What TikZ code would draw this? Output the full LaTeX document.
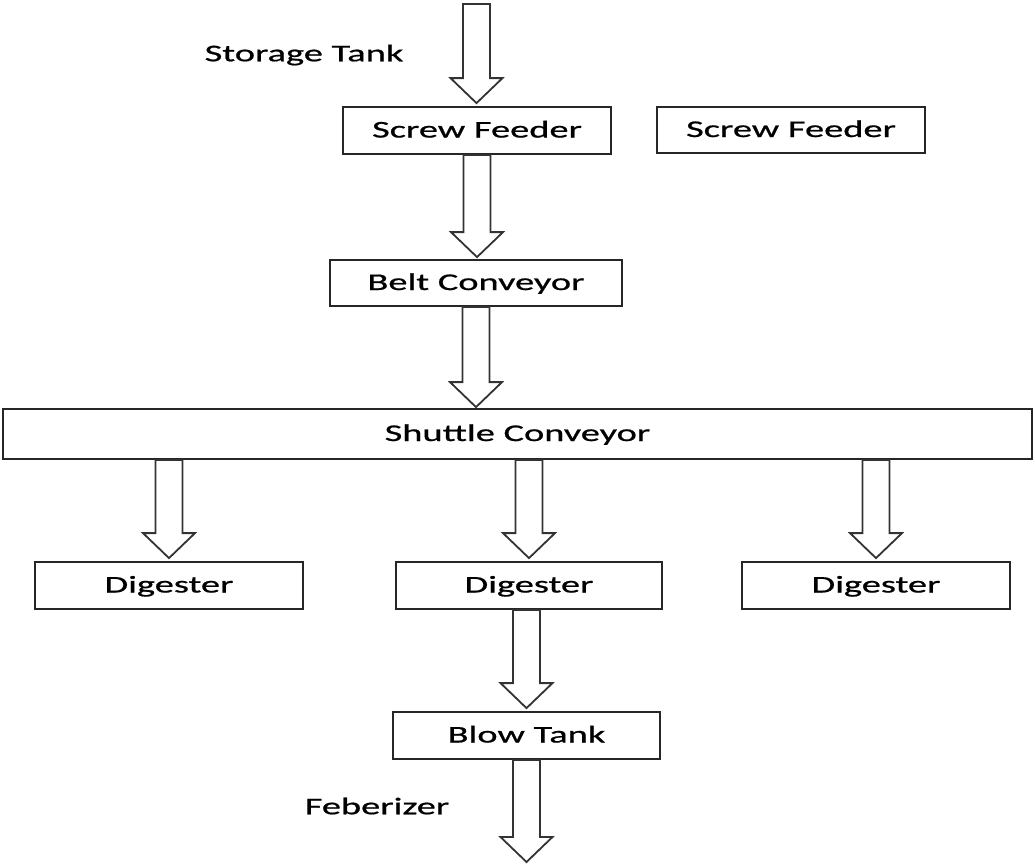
\documentclass[tikz,border=0pt]{standalone}
\usepackage{fontspec}
\setmainfont{Carlito}
\newfontfamily\widefont[FakeStretch=1.6,FakeBold=0.8]{Carlito}
\usetikzlibrary{calc}
\tikzset{
  box/.style={draw=black!85, line width=1.8pt, inner sep=0pt, text height=17pt, text depth=3pt, font=\widefont\fontsize{24}{28}\selectfont},
  lbl/.style={inner sep=0pt, font=\widefont\fontsize{24}{28}\selectfont},
  blockarrow/.style={draw=black!80, line width=1.8pt, fill=white, line join=miter}
}
\newcommand\barrow[2]{%
  \draw[blockarrow] let \p1=(#1), \p2=(#2) in
    (\x1-13.5pt,\y1) -- (\x1-13.5pt,\y2+25pt) -- (\x1-26pt,\y2+25pt) -- (\x1,\y2)
    -- (\x1+26pt,\y2+25pt) -- (\x1+13.5pt,\y2+25pt) -- (\x1+13.5pt,\y1) -- cycle;}
\begin{document}
\begin{tikzpicture}[x=1pt,y=-1pt]
\useasboundingbox (0,0) rectangle (1035,863);
\node[box, minimum width=268pt, minimum height=47pt] (sf1) at (477,130.5) {Screw Feeder};
\node[box, minimum width=268pt, minimum height=46pt] (sf2) at (791,130) {Screw Feeder};
\node[box, minimum width=292pt, minimum height=46pt] (bc) at (476,283) {Belt Conveyor};
\node[box, minimum width=1029pt, minimum height=50pt] (sc) at (517.5,434) {Shuttle Conveyor};
\node[box, minimum width=268pt, minimum height=47pt] (d1) at (169,585.5) {Digester};
\node[box, minimum width=266pt, minimum height=47pt] (d2) at (529,585.5) {Digester};
\node[box, minimum width=268pt, minimum height=47pt] (d3) at (876,585.5) {Digester};
\node[box, minimum width=267pt, minimum height=47pt] (bt) at (526.5,735.5) {Blow Tank};
\node[lbl] (st) at (304,55) {Storage Tank};
\node[lbl] (fb) at (377,806) {Feberizer};
\coordinate (top) at (476.5,4);
\coordinate (bottom) at (526.5,862);
\barrow{top}{$(sf1.north)+(0,-3)$}
\barrow{sf1.south}{$(bc.north)+(0,-2)$}
\barrow{bc.south}{$(sc.north)+(0,-1)$}
\barrow{sc.south -| d1.north}{$(d1.north)+(0,-3)$}
\barrow{sc.south -| d2.north}{$(d2.north)+(0,-3)$}
\barrow{sc.south -| d3.north}{$(d3.north)+(0,-3)$}
\barrow{d2.south -| bt.north}{$(bt.north)+(0,-3)$}
\barrow{bt.south}{bottom}
\end{tikzpicture}
\end{document}
